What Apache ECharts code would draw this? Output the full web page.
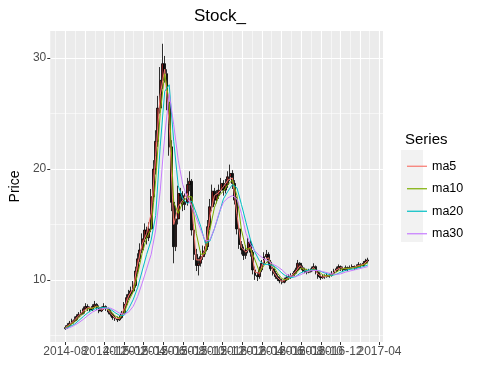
<!DOCTYPE html>
<html><head><meta charset="utf-8">
<script src="https://cdn.jsdelivr.net/npm/echarts@6/dist/echarts.min.js"></script>
<style>html,body{margin:0;padding:0;background:#fff}#c{width:484px;height:388px}</style>
</head><body><div id="c"></div>
<script>
const dates = [
'2014-08-01','2014-08-08','2014-08-15','2014-08-22','2014-08-29','2014-09-05','2014-09-12','2014-09-19','2014-09-26','2014-10-03',
'2014-10-10','2014-10-17','2014-10-24','2014-10-31','2014-11-07','2014-11-14','2014-11-21','2014-11-28','2014-12-05','2014-12-12',
'2014-12-19','2014-12-26','2015-01-02','2015-01-09','2015-01-16','2015-01-23','2015-01-30','2015-02-06','2015-02-13','2015-02-20',
'2015-02-27','2015-03-06','2015-03-13','2015-03-20','2015-03-27','2015-04-03','2015-04-10','2015-04-17','2015-04-24','2015-05-01',
'2015-05-08','2015-05-15','2015-05-22','2015-05-29','2015-06-05','2015-06-12','2015-06-19','2015-06-26','2015-07-03','2015-07-10',
'2015-07-17','2015-07-24','2015-07-31','2015-08-07','2015-08-14','2015-08-21','2015-08-28','2015-09-04','2015-09-11','2015-09-18',
'2015-09-25','2015-10-02','2015-10-09','2015-10-16','2015-10-23','2015-10-30','2015-11-06','2015-11-13','2015-11-20','2015-11-27',
'2015-12-04','2015-12-11','2015-12-18','2015-12-25','2016-01-01','2016-01-08','2016-01-15','2016-01-22','2016-01-29','2016-02-05',
'2016-02-12','2016-02-19','2016-02-26','2016-03-04','2016-03-11','2016-03-18','2016-03-25','2016-04-01','2016-04-08','2016-04-15',
'2016-04-22','2016-04-29','2016-05-06','2016-05-13','2016-05-20','2016-05-27','2016-06-03','2016-06-10','2016-06-17','2016-06-24',
'2016-07-01','2016-07-08','2016-07-15','2016-07-22','2016-07-29','2016-08-05','2016-08-12','2016-08-19','2016-08-26','2016-09-02',
'2016-09-09','2016-09-16','2016-09-23','2016-09-30','2016-10-07','2016-10-14','2016-10-21','2016-10-28','2016-11-04','2016-11-11',
'2016-11-18','2016-11-25','2016-12-02','2016-12-09','2016-12-16','2016-12-23','2016-12-30','2017-01-06','2017-01-13','2017-01-20',
'2017-01-27','2017-02-03','2017-02-10','2017-02-17','2017-02-24'
];
const openP = [
5.6,5.7,5.9,6.1,6.3,6.4,6.7,6.9,7.0,7.4,
7.6,7.4,7.3,7.6,7.8,7.5,7.2,7.4,7.6,7.4,
7.1,6.9,6.6,6.5,6.4,6.6,7.0,7.8,8.4,8.7,
9.0,9.5,10.8,11.9,12.7,13.7,14.5,13.8,14.6,17.5,
20.0,22.5,25.5,28.0,29.5,28.6,26.0,22.0,17.0,13.0,
15.5,17.8,17.6,16.8,17.0,18.6,18.9,14.5,12.3,11.3,
11.5,12.1,12.6,13.0,14.8,16.6,18.0,17.2,17.6,18.1,
18.7,18.1,18.6,19.3,19.6,18.7,17.2,14.6,13.2,12.7,
12.2,12.7,13.4,12.5,10.9,10.4,10.3,10.9,11.5,12.1,
12.3,11.6,11.0,10.6,10.3,10.1,9.9,9.8,10.0,10.2,
10.3,10.4,10.6,10.9,11.5,11.1,10.9,10.8,10.7,10.8,
11.0,11.2,10.7,10.3,10.2,10.3,10.3,10.4,10.4,10.6,
10.8,11.0,11.2,11.0,10.9,11.1,11.0,11.1,11.2,11.1,
11.2,11.4,11.3,11.5,11.7
];
const closeP = [
5.7,5.9,6.1,6.3,6.4,6.7,6.9,7.0,7.4,7.6,
7.4,7.3,7.6,7.8,7.5,7.2,7.4,7.6,7.4,7.1,
6.9,6.6,6.5,6.4,6.6,7.0,7.8,8.4,8.7,9.0,
9.5,10.8,11.9,12.7,13.7,14.5,13.8,14.6,17.5,20.0,
22.5,25.5,28.0,29.5,28.6,26.0,22.0,17.0,13.0,15.5,
17.8,17.6,16.8,17.0,18.6,18.9,14.5,12.3,11.3,11.5,
12.1,12.6,13.0,14.8,16.6,18.0,17.2,17.6,18.1,18.7,
18.1,18.6,19.3,19.6,18.7,17.2,14.6,13.2,12.7,12.2,
12.7,13.4,12.5,10.9,10.4,10.3,10.9,11.5,12.1,12.3,
11.6,11.0,10.6,10.3,10.1,9.9,9.8,10.0,10.2,10.3,
10.4,10.6,10.9,11.5,11.1,10.9,10.8,10.7,10.8,11.0,
11.2,10.7,10.3,10.2,10.3,10.3,10.4,10.4,10.6,10.8,
11.0,11.2,11.0,10.9,11.1,11.0,11.1,11.2,11.1,11.2,
11.4,11.3,11.5,11.7,11.8
];
const lowP = [
5.5,5.6,5.8,6.0,6.2,6.3,6.6,6.8,6.9,7.3,
7.2,7.1,7.2,7.5,7.3,7.0,7.1,7.3,7.2,6.9,
6.7,6.4,6.3,6.2,6.3,6.5,6.9,7.6,8.2,8.5,
8.8,9.3,10.5,11.6,12.4,13.4,13.2,13.5,14.3,17.0,
19.5,22.0,25.0,27.2,27.8,25.3,21.2,16.2,11.5,12.6,
15.0,16.9,16.2,16.3,16.7,18.0,14.0,11.8,10.8,10.4,
11.2,11.8,12.3,12.7,14.5,16.2,16.8,16.9,17.3,17.8,
17.6,17.8,18.3,18.9,18.2,16.8,14.1,12.8,12.3,11.8,
11.9,12.4,12.1,10.5,10.0,9.9,10.1,10.7,11.3,11.9,
11.3,10.8,10.4,10.1,9.9,9.7,9.6,9.7,9.9,10.0,
10.1,10.3,10.5,10.8,10.9,10.7,10.6,10.5,10.6,10.7,
10.9,10.5,10.1,10.0,10.1,10.1,10.2,10.2,10.3,10.5,
10.7,10.9,10.8,10.7,10.8,10.8,10.9,11.0,10.9,11.0,
11.1,11.1,11.2,11.4,11.5
];
const highP = [
5.9,6.1,6.3,6.5,6.7,6.9,7.1,7.3,7.6,7.9,
7.8,7.6,7.8,8.1,7.9,7.7,7.6,7.9,7.7,7.5,
7.3,7.0,6.8,6.7,6.8,7.2,8.0,8.7,9.1,9.4,
9.9,11.2,12.4,13.3,14.2,15.1,14.8,15.2,18.2,20.8,
23.5,26.6,29.2,31.3,30.2,29.0,26.5,22.6,17.5,16.6,
18.5,18.3,18.0,17.8,19.2,19.8,19.1,15.0,12.8,12.0,
12.6,13.1,13.6,15.4,17.3,18.6,18.3,18.1,18.6,19.2,
19.0,19.1,19.8,20.4,19.9,19.0,17.5,14.9,13.5,13.0,
13.1,13.8,13.6,12.7,11.2,10.7,11.2,11.8,12.5,12.7,
12.5,11.8,11.2,10.8,10.5,10.3,10.1,10.2,10.4,10.5,
10.6,10.8,11.1,11.8,11.6,11.3,11.1,11.0,11.0,11.2,
11.5,11.3,10.9,10.5,10.5,10.5,10.6,10.6,10.8,11.0,
11.2,11.4,11.3,11.2,11.3,11.2,11.3,11.4,11.3,11.4,
11.6,11.5,11.7,11.9,12.0
];
// moving averages, read every second week (dates[0], dates[2], ...)
const ma5 = [
5.7,6.0,6.35,6.8,7.2,7.5,7.45,7.65,7.3,7.5,
7.0,6.55,6.5,7.4,8.55,9.25,11.4,13.2,14.2,16.0,
21.2,26.7,29.0,24.0,15.0,16.6,17.2,17.8,16.7,11.8,
11.8,12.8,15.7,17.6,17.9,18.4,19.0,19.2,15.9,12.9,
12.5,13.0,10.7,10.6,11.8,12.0,10.8,10.2,9.85,10.1,
10.35,10.75,11.3,10.85,10.75,11.1,10.5,10.25,10.35,10.5,
10.9,11.1,11.0,11.05,11.15,11.3,11.4,11.75
];
const ma10 = [
5.65,5.9,6.2,6.6,7.0,7.4,7.45,7.6,7.45,7.45,
7.2,6.75,6.55,7.0,8.1,8.9,10.5,12.4,13.8,14.6,
19.0,25.0,28.6,26.0,17.0,16.0,17.0,17.5,17.5,14.2,
12.3,12.4,14.5,16.5,17.6,18.0,18.6,19.0,17.6,14.5,
12.8,12.8,11.8,10.7,11.3,11.8,11.3,10.6,10.1,10.0,
10.25,10.55,11.0,11.0,10.8,10.95,10.8,10.45,10.35,10.4,
10.7,10.95,11.05,11.05,11.1,11.2,11.35,11.55
];
const ma20 = [
5.6,5.8,6.0,6.35,6.7,7.05,7.3,7.45,7.5,7.5,
7.35,7.05,6.8,6.8,7.4,8.2,9.3,10.8,12.3,13.6,
15.8,22.0,27.0,27.6,22.5,18.5,17.3,16.9,17.1,16.0,
14.8,13.3,13.5,14.6,15.9,17.3,18.0,18.6,18.3,16.8,
15.2,13.6,12.5,11.7,11.4,11.4,11.3,11.0,10.6,10.3,
10.2,10.3,10.6,10.8,10.9,10.9,10.85,10.7,10.55,10.4,
10.5,10.7,10.85,10.95,11.0,11.1,11.2,11.35
];
const ma30 = [
5.6,5.7,5.9,6.15,6.45,6.8,7.1,7.3,7.4,7.45,
7.45,7.25,7.0,6.9,7.1,7.6,8.5,9.7,11.0,12.3,
14.5,18.0,23.0,26.8,24.0,20.8,18.6,17.4,16.6,15.6,
14.5,13.5,13.6,14.6,16.0,17.0,17.4,17.6,17.3,16.0,
14.2,13.2,12.6,12.2,11.9,11.7,11.4,11.2,10.9,10.5,
10.35,10.3,10.45,10.65,10.8,10.85,10.85,10.75,10.65,10.55,
10.5,10.55,10.7,10.8,10.9,11.0,11.1,11.2
];
const seriesNames = ['ma5','ma10','ma20','ma30'];
const xTickLabels = ['2014-08','2014-10','2014-12','2015-02','2015-04','2015-06','2015-08','2015-10','2015-12',
  '2016-02','2016-04','2016-06','2016-08','2016-10','2016-12','2017-02','2017-04'];
const xMinorTicks = ['2014-07','2014-09','2014-11','2015-01','2015-03','2015-05','2015-07','2015-09','2015-11',
  '2016-01','2016-03','2016-05','2016-07','2016-09','2016-11','2017-01','2017-03'];
const yTicks = [10,20,30];
const yMinorTicks = [5,15,25];

const colors = ['#F8766D','#7CAE00','#00BFC4','#C77CFF'];
const toMs = s => new Date((s.length === 7 ? s + '-01' : s).replace(/-/g,'/')).getTime();
const tms = dates.map(toMs);
const span = tms[tms.length-1] - tms[0];
const xMin = tms[0] - 0.05*span, xMax = tms[tms.length-1] + 0.05*span;
const candleData = dates.map((d,i) => [tms[i], openP[i], closeP[i], lowP[i], highP[i]]);
const maTimes = tms.filter((_, i) => i % 2 === 0);
const maData = [ma5, ma10, ma20, ma30].map(arr => arr.map((v,i) => [maTimes[i], v]));
const xTickMs = xTickLabels.map(toMs);
const font = '"Liberation Sans", Arial, sans-serif';

const chart = echarts.init(document.getElementById('c'), null, {renderer:'canvas'});
chart.setOption({
  backgroundColor:'#ffffff',
  animation:false,
  textStyle:{fontFamily:font},
  title:[
    {text:'Stock_', left:215, top:3, textAlign:'center', textStyle:{fontSize:17, fontWeight:'normal', color:'#000', fontFamily:font}},
    {text:'Series', left:400, top:127, textStyle:{fontSize:15, fontWeight:'normal', color:'#000', fontFamily:font}}
  ],
  graphic:[{type:'rect', left:401, top:150, shape:{width:22, height:92}, style:{fill:'#F2F2F2'}, z:0}],
  legend:{
    data:seriesNames.map(n => ({name:n, icon:'rect'})), orient:'vertical', left:402, top:154,
    itemWidth:20, itemHeight:1.2, itemGap:8,
    textStyle:{fontSize:12.5, color:'#000', fontFamily:font, lineHeight:14.5}
  },
  grid:{left:48, right:101, top:31, bottom:46, show:true, backgroundColor:'#EBEBEB', borderWidth:0},
  xAxis:[
    {type:'value', min:xMin, max:xMax, position:'bottom', scale:true,
     axisLine:{show:false},
     axisTick:{show:true, length:3, lineStyle:{color:'#333', width:1}, customValues:xTickMs},
     axisLabel:{show:true, margin:4, fontSize:12, color:'#4D4D4D', fontFamily:font, hideOverlap:false,
       showMinLabel:true, showMaxLabel:true, customValues:xTickMs,
       formatter:v => { const i = xTickMs.indexOf(v); return i >= 0 ? xTickLabels[i] : ''; }},
     splitLine:{show:true, lineStyle:{color:'#FFFFFF', width:1.1}}},
    {type:'value', min:xMin, max:xMax, position:'top', scale:true,
     axisLine:{show:false}, axisTick:{show:false, customValues:xMinorTicks.map(toMs)},
     axisLabel:{show:false, customValues:xMinorTicks.map(toMs)},
     splitLine:{show:true, lineStyle:{color:'#FFFFFF', width:0.55}}}
  ],
  yAxis:[
    {type:'value', min:4.4, max:32.45, position:'left',
     name:'Price', nameLocation:'middle', nameRotate:90, nameGap:25,
     nameTextStyle:{fontSize:14, color:'#000', fontFamily:font},
     axisLine:{show:false},
     axisTick:{show:true, length:3, lineStyle:{color:'#333'}, customValues:yTicks},
     axisLabel:{margin:4, fontSize:12, color:'#4D4D4D', fontFamily:font, customValues:yTicks},
     splitLine:{show:true, lineStyle:{color:'#FFFFFF', width:1.1}}},
    {type:'value', min:4.4, max:32.45, position:'right',
     axisLine:{show:false}, axisTick:{show:false, customValues:yMinorTicks},
     axisLabel:{show:false, customValues:yMinorTicks},
     splitLine:{show:true, lineStyle:{color:'#FFFFFF', width:0.55}}}
  ],
  series:[
    {type:'candlestick', name:'Stock', data:candleData, encode:{x:0, y:[1,2,3,4]}, barWidth:2.4,
     itemStyle:{color:'#7a1c1c', color0:'#111111', borderColor:'#000000', borderColor0:'#000000', borderWidth:0.8}, z:2},
    ...seriesNames.map((n,i) => ({type:'line', name:n, data:maData[i], symbol:'none', showSymbol:false,
      lineStyle:{color:colors[i], width:1}, itemStyle:{color:colors[i]}, z:3}))
  ]
});
</script></body></html>
